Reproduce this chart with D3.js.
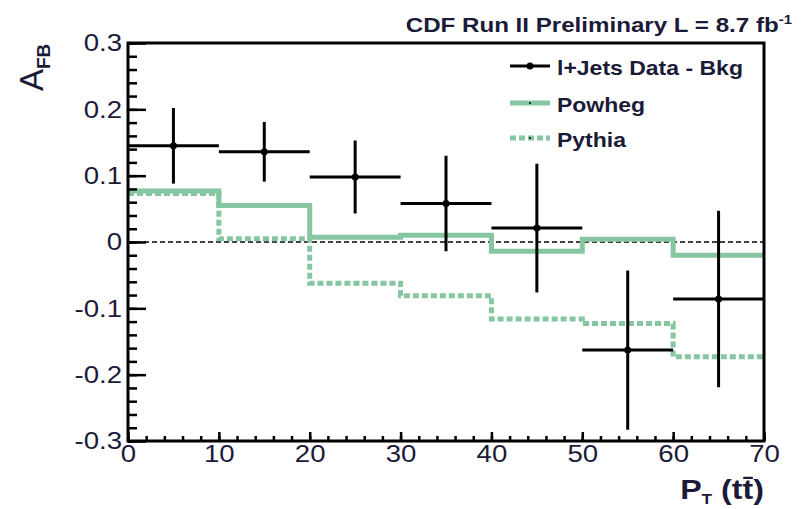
<!DOCTYPE html>
<html>
<head>
<meta charset="utf-8">
<script src="https://cdnjs.cloudflare.com/ajax/libs/d3/7.8.5/d3.min.js"></script>
<style>
  body { margin: 0; background: #ffffff; }
  text { font-family: "Liberation Sans", Arial, Helvetica, sans-serif; fill: #1b1b38; }
</style>
</head>
<body>
<script>
// bins of the pT(tt) histogram
var binEdges = [0, 10, 20, 30, 40, 50, 60, 70];
var binCenters = [5, 15, 25, 35, 45, 55, 65];

// l+jets data minus background, with errors
var dataValues = [0.145, 0.136, 0.098, 0.058, 0.021, -0.163, -0.086];
var dataErrors = [0.057, 0.045, 0.055, 0.072, 0.097, 0.120, 0.133];

// predictions per bin
var powhegValues = [0.077, 0.055, 0.007, 0.010, -0.014, 0.004, -0.020];
var pythiaValues = [0.073, 0.005, -0.062, -0.081, -0.116, -0.123, -0.173];

// tick labels
var yTicks = [-0.3, -0.2, -0.1, 0, 0.1, 0.2, 0.3];
var yTickLabels = ["-0.3", "-0.2", "-0.1", "0", "0.1", "0.2", "0.3"];
var xTicks = [0, 10, 20, 30, 40, 50, 60, 70];

var legendNames = ["l+Jets Data - Bkg", "Powheg", "Pythia"];

// size and padding
var w = 805;
var h = 509;
var plotLeft = 128;
var plotRight = 764;
var plotTop = 43;
var plotBottom = 441;
var green = "#86c6a1";
var stretchX = 1.15;

var svg = d3.select("body")
            .append("svg")
            .attr("width", w)
            .attr("height", h);

var xScale = d3.scaleLinear().domain([0, 70]).range([plotLeft, plotRight]);
var yScale = d3.scaleLinear().domain([-0.3, 0.3]).range([plotBottom, plotTop]);

// the root fonts are a bit wider than liberation, so stretch them
function stretch(sel, origin) {
  sel.style("transform-box", "fill-box")
     .style("transform-origin", origin)
     .style("transform", "scaleX(" + stretchX + ")");
}

// dashed line at zero
svg.append("line")
   .attr("x1", xScale(0))
   .attr("x2", xScale(70))
   .attr("y1", yScale(0))
   .attr("y2", yScale(0))
   .attr("stroke", "#000")
   .attr("stroke-width", 1.3)
   .attr("stroke-dasharray", "5,3");

// histogram steps, last value repeated at the right edge
var step = d3.line()
             .x(function(d) { return xScale(d[0]); })
             .y(function(d) { return yScale(d[1]); })
             .curve(d3.curveStepAfter);

function stepPoints(values) {
  var pts = values.map(function(v, i) { return [binEdges[i], v]; });
  pts.push([binEdges[binEdges.length - 1], values[values.length - 1]]);
  return pts;
}

svg.append("path")
   .attr("d", step(stepPoints(powhegValues)))
   .attr("fill", "none")
   .attr("stroke", green)
   .attr("stroke-width", 5);

svg.append("path")
   .attr("d", step(stepPoints(pythiaValues)))
   .attr("fill", "none")
   .attr("stroke", green)
   .attr("stroke-width", 5)
   .attr("stroke-dasharray", "6,3");

// data points with error bars
var points = svg.append("g")
                .selectAll("g")
                .data(binCenters)
                .enter()
                .append("g");

points.append("line")
      .attr("x1", function(d, i) { return xScale(binEdges[i]); })
      .attr("x2", function(d, i) { return xScale(binEdges[i + 1]); })
      .attr("y1", function(d, i) { return yScale(dataValues[i]); })
      .attr("y2", function(d, i) { return yScale(dataValues[i]); })
      .attr("stroke", "#000")
      .attr("stroke-width", 3);

points.append("line")
      .attr("x1", function(d) { return xScale(d); })
      .attr("x2", function(d) { return xScale(d); })
      .attr("y1", function(d, i) { return yScale(dataValues[i] + dataErrors[i]); })
      .attr("y2", function(d, i) { return yScale(dataValues[i] - dataErrors[i]); })
      .attr("stroke", "#000")
      .attr("stroke-width", 3);

points.append("circle")
      .attr("cx", function(d) { return xScale(d); })
      .attr("cy", function(d, i) { return yScale(dataValues[i]); })
      .attr("r", 3.5)
      .attr("fill", "#000");

// y axis: major and minor ticks pointing inside
var yMajor = svg.append("g")
                .attr("transform", "translate(" + plotLeft + ",0)")
                .call(d3.axisLeft(yScale)
                        .tickValues(yTicks)
                        .tickSize(-18)
                        .tickPadding(6)
                        .tickFormat(function(d, i) { return yTickLabels[i]; }));

svg.append("g")
   .attr("transform", "translate(" + plotLeft + ",0)")
   .call(d3.axisLeft(yScale)
           .tickValues(d3.range(-0.3, 0.3001, 0.02))
           .tickSize(-9)
           .tickFormat(""));

var xMajor = svg.append("g")
                .attr("transform", "translate(0," + plotBottom + ")")
                .call(d3.axisBottom(xScale)
                        .tickValues(xTicks)
                        .tickSize(-9)
                        .tickPadding(4));

svg.append("g")
   .attr("transform", "translate(0," + plotBottom + ")")
   .call(d3.axisBottom(xScale)
           .tickValues(d3.range(0, 70.001, 2))
           .tickSize(-5)
           .tickFormat(""));

svg.selectAll(".domain").remove();
svg.selectAll(".tick line")
   .attr("stroke", "#000")
   .attr("stroke-width", 2.5);

yMajor.selectAll("text")
      .style("font-size", "24px")
      .style("fill", "#1b1b38")
      .call(stretch, "right center");

xMajor.selectAll("text")
      .style("font-size", "24px")
      .style("fill", "#1b1b38")
      .call(stretch, "center");

// frame
svg.append("rect")
   .attr("x", plotLeft)
   .attr("y", plotTop)
   .attr("width", plotRight - plotLeft)
   .attr("height", plotBottom - plotTop)
   .attr("fill", "none")
   .attr("stroke", "#000")
   .attr("stroke-width", 3);

// title
var title = svg.append("text")
               .attr("x", 792)
               .attr("y", 32)
               .attr("text-anchor", "end")
               .style("font-size", "21px")
               .style("font-weight", "bold");
title.append("tspan").text("CDF Run II Preliminary L = 8.7 fb");
title.append("tspan")
     .attr("dy", -8)
     .style("font-size", "13px")
     .text("-1");
title.call(stretch, "right center");

// axis titles
var yTitle = svg.append("text")
                .attr("transform", "translate(43,91) rotate(-90)")
                .style("font-size", "33px");
yTitle.append("tspan").text("A");
yTitle.append("tspan")
      .attr("dy", 7)
      .style("font-size", "19px")
      .style("font-weight", "bold")
      .text("FB");

var xTitle = svg.append("text")
                .attr("x", 764)
                .attr("y", 499)
                .attr("text-anchor", "end")
                .style("font-size", "28px")
                .style("font-weight", "bold");
xTitle.append("tspan").text("P");
xTitle.append("tspan")
      .attr("dy", 5)
      .style("font-size", "15px")
      .text("T");
xTitle.append("tspan")
      .attr("dy", -5)
      .text(" (tt\u0304)");
xTitle.call(stretch, "right center");

// legend
var legendY = [66, 103, 138];
var legend = svg.append("g");

for (var n = 0; n < legendNames.length; n++) {
  var line = legend.append("line")
                   .attr("x1", 510)
                   .attr("x2", 550)
                   .attr("y1", legendY[n])
                   .attr("y2", legendY[n]);
  if (n == 0) {
    line.attr("stroke", "#000").attr("stroke-width", 3);
    legend.append("circle")
          .attr("cx", 530)
          .attr("cy", legendY[n])
          .attr("r", 3.5)
          .attr("fill", "#000");
  }
  else {
    line.attr("stroke", green).attr("stroke-width", 5);
    if (n == 2) line.attr("stroke-dasharray", "6,3");
    legend.append("circle")
          .attr("cx", 530)
          .attr("cy", legendY[n])
          .attr("r", 1)
          .attr("fill", "#000");
  }
  legend.append("text")
        .attr("x", 557)
        .attr("y", legendY[n] + 9)
        .style("font-size", "20px")
        .style("font-weight", "bold")
        .text(legendNames[n])
        .call(stretch, "left center");
}
</script>
</body>
</html>
